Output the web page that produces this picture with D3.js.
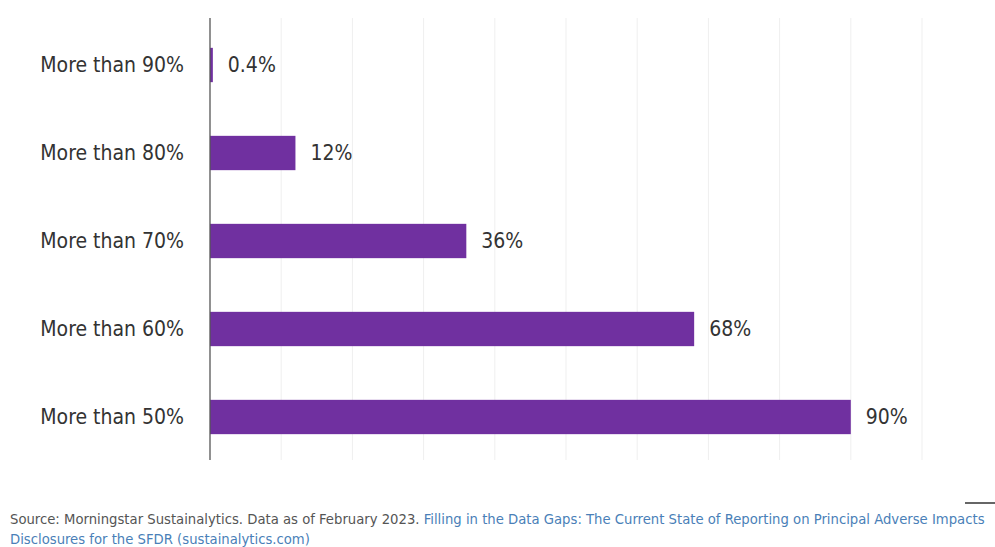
<!DOCTYPE html>
<html><head><meta charset="utf-8">
<script src="https://cdn.jsdelivr.net/npm/d3@7"></script>
<style>
body{margin:0;background:#fff;}
text{font-family:"Liberation Sans Narrow","DejaVu Sans Condensed","Roboto",sans-serif;}
</style></head>
<body><svg id="c" width="995" height="547"></svg>
<script>
const categories = ["More than 90%","More than 80%","More than 70%","More than 60%","More than 50%"];
const values = [0.4, 12, 36, 68, 90];
const valueLabels = ["0.4%","12%","36%","68%","90%"];
const gridTicks = [10,20,30,40,50,60,70,80,90,100];

const svg = d3.select("#c");
const x = d3.scaleLinear().domain([0,100]).range([210,922]);
const y = d3.scaleBand().domain(categories).range([21,461]).paddingInner(0.61).paddingOuter(0.305);

svg.append("g").selectAll("line").data(gridTicks).join("line")
  .attr("x1",d=>x(d)).attr("x2",d=>x(d)).attr("y1",18).attr("y2",460)
  .attr("stroke","#efefef").attr("stroke-width",1);

svg.append("g").selectAll("rect").data(values).join("rect")
  .attr("x",x(0)).attr("y",(d,i)=>y(categories[i]))
  .attr("width",d=>x(d)-x(0)).attr("height",y.bandwidth())
  .attr("fill","#7030a0");

const ax = d3.axisLeft(y).tickSize(0).tickPadding(26);
const g = svg.append("g").attr("transform",`translate(${x(0)},0)`).call(ax);
g.select(".domain").remove();
g.selectAll("text").attr("font-size",21).attr("fill","#333").attr("font-family",null);
svg.append("line").attr("x1",x(0)).attr("x2",x(0)).attr("y1",18).attr("y2",460)
  .attr("stroke","#555").attr("stroke-width",1.3);

svg.append("g").selectAll("text").data(values).join("text")
  .attr("x",d=>x(d)+15).attr("y",(d,i)=>y(categories[i])+y.bandwidth()/2)
  .attr("dy","0.35em").attr("font-size",21).attr("fill","#333")
  .text((d,i)=>valueLabels[i]);

const src = svg.append("text").attr("x",10).attr("y",524).attr("font-size",14.7);
src.append("tspan").attr("fill","#555").text("Source: Morningstar Sustainalytics. Data as of February 2023. ");
src.append("tspan").attr("fill","#4a7fb8").text("Filling in the Data Gaps: The Current State of Reporting on Principal Adverse Impacts");
svg.append("text").attr("x",10).attr("y",544).attr("font-size",14.7).attr("fill","#4a7fb8")
  .text("Disclosures for the SFDR (sustainalytics.com)");
svg.append("line").attr("x1",965).attr("x2",995).attr("y1",503).attr("y2",503).attr("stroke","#333").attr("stroke-width",1.5);
</script></body></html>
